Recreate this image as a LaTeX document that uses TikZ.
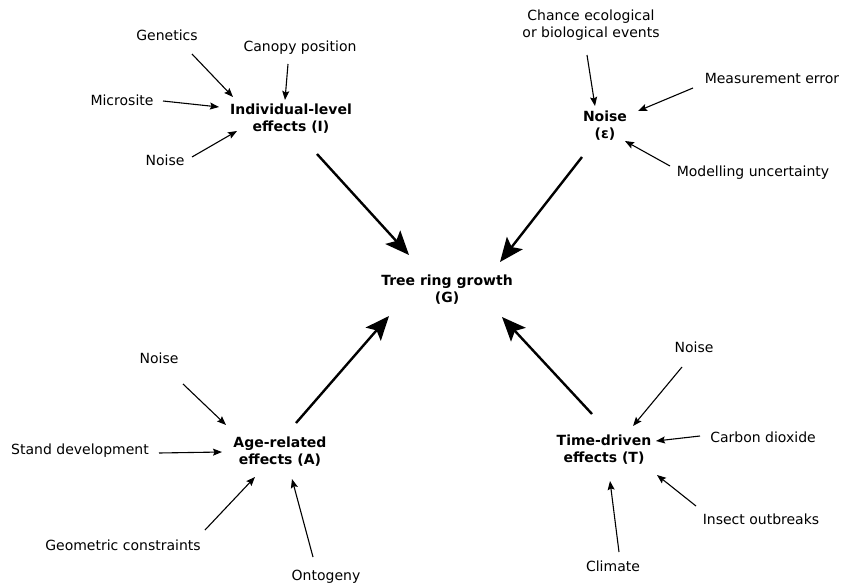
\documentclass[tikz,border=0pt]{standalone}
\usepackage{fontspec}
\setmainfont{DejaVu Sans}
\usetikzlibrary{arrows.meta,calc}
\begin{document}
\begin{tikzpicture}[x=1pt,y=-1pt,
  lbl/.style={inner sep=0pt,align=center,font=\fontsize{14}{17}\selectfont},
  hub/.style={lbl,font=\fontsize{14}{17}\selectfont\bfseries},
  smallarrow/.style={line width=1.1pt,-{Stealth[length=9pt,width=7pt,inset=1.5pt]}},
  bigarrow/.style={line width=2.4pt,-{Stealth[length=24pt,width=20pt,inset=5pt]}}]
\useasboundingbox (0,0) rectangle (844,586);
% hubs
\node[hub] (G) at (447,290) {Tree ring growth\\(G)};
\node[hub] (I) at (291,119) {Individual-level\\effects (I)};
\node[hub] (E) at (605,126) {Noise\\(ε)};
\node[hub] (A) at (280,452) {Age-related\\effects (A)};
\node[hub] (T) at (604,450) {Time-driven\\effects (T)};
% causes
\node[lbl] (gen) at (167,35) {Genetics};
\node[lbl] (can) at (300,48) {Canopy position};
\node[lbl] (mic) at (122,100) {Microsite};
\node[lbl] (noi) at (165,160) {Noise};
\node[lbl] (cha) at (591,25) {Chance ecological\\or biological events};
\node[lbl] (mea) at (772,78) {Measurement error};
\node[lbl] (mod) at (753,173) {Modelling uncertainty};
\node[lbl] (sta) at (80,451) {Stand development};
\node[lbl] (noa) at (159,358) {Noise};
\node[lbl] (geo) at (123,545) {Geometric constraints};
\node[lbl] (ont) at (326,577) {Ontogeny};
\node[lbl] (not) at (694,347) {Noise};
\node[lbl] (car) at (763,437) {Carbon dioxide};
\node[lbl] (ins) at (761,519) {Insect outbreaks};
\node[lbl] (cli) at (613,566) {Climate};
% small arrows
\draw[smallarrow] ($(gen)+(25,19)$) -- ($(I)+(-58,-22)$);
\draw[smallarrow] ($(can)+(-12,16)$) -- ($(I)+(-6,-19)$);
\draw[smallarrow] ($(mic)+(41,1)$) -- ($(I)+(-72,-12)$);
\draw[smallarrow] ($(noi)+(27,-3)$) -- ($(I)+(-54,12)$);
\draw[smallarrow] ($(cha)+(-4,30)$) -- ($(E)+(-10,-20)$);
\draw[smallarrow] ($(mea)+(-79,10)$) -- ($(E)+(33,-15)$);
\draw[smallarrow] ($(mod)+(-83,-7)$) -- ($(E)+(20,15)$);
\draw[smallarrow] ($(sta)+(79,2)$) -- ($(A)+(-58,0)$);
\draw[smallarrow] ($(noa)+(24,26)$) -- ($(A)+(-54,-27)$);
\draw[smallarrow] ($(geo)+(82,-15)$) -- ($(A)+(-25,25)$);
\draw[smallarrow] ($(ont)+(-13,-20)$) -- ($(A)+(12,27)$);
\draw[smallarrow] ($(not)+(-12,20)$) -- ($(T)+(29,-24)$);
\draw[smallarrow] ($(car)+(-63,-1)$) -- ($(T)+(52,-9)$);
\draw[smallarrow] ($(ins)+(-65,-13)$) -- ($(T)+(53,25)$);
\draw[smallarrow] ($(cli)+(6,-14)$) -- ($(T)+(6,31)$);
% big arrows
\draw[bigarrow] ($(I)+(26,35)$) -- ($(G)+(-38,-35)$);
\draw[bigarrow] ($(E)+(-23,31)$) -- ($(G)+(53,-28)$);
\draw[bigarrow] ($(A)+(16,-29)$) -- ($(G)+(-58,26)$);
\draw[bigarrow] ($(T)+(-12,-36)$) -- ($(G)+(55,27)$);
\end{tikzpicture}
\end{document}
